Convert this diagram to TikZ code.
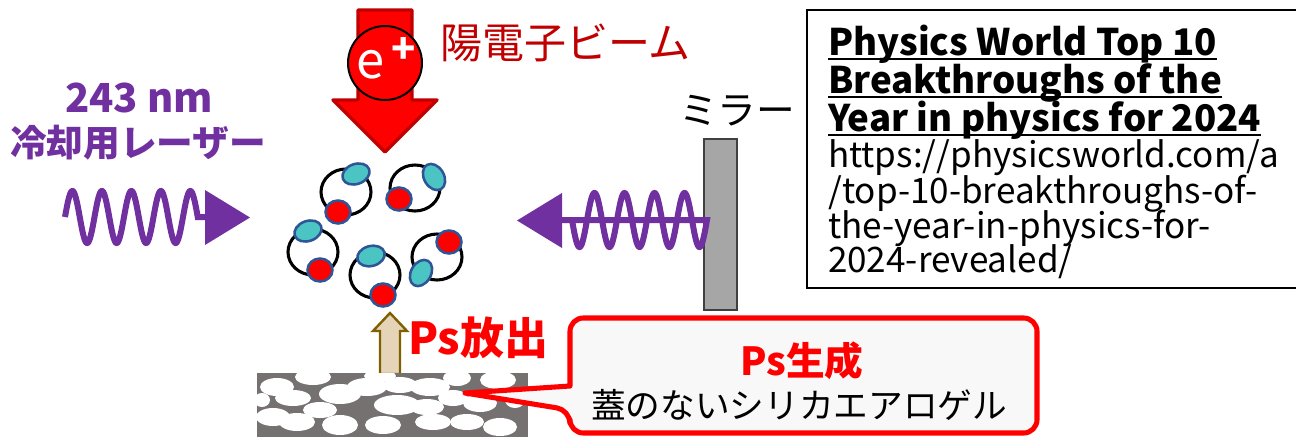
\documentclass[tikz,border=0pt]{standalone}
\usepackage{fontspec}
\setmainfont{Noto Sans CJK JP}
\usetikzlibrary{calc}

\definecolor{beamred}{HTML}{FF0000}
\definecolor{beamdark}{HTML}{C00000}
\definecolor{laser}{HTML}{7030A0}
\definecolor{poscyan}{HTML}{4BC4C4}
\definecolor{ellblue}{HTML}{2F5597}
\definecolor{mirrorfill}{HTML}{A6A6A6}
\definecolor{mirrorline}{HTML}{404040}
\definecolor{gelgray}{HTML}{767171}
\definecolor{psfill}{HTML}{E6D4B8}
\definecolor{psline}{HTML}{7F6000}
\definecolor{calloutfill}{HTML}{F8F8F8}

\tikzset{
  txt/.style={inner sep=0pt, outer sep=0pt},
  ring/.style={draw=black, line width=2.3pt},
  cyanpart/.style={draw=ellblue, fill=poscyan, line width=1.9pt},
  redpart/.style={draw=ellblue, fill=beamred, line width=1.9pt},
  wave/.style={draw=laser, line width=4.5pt},
  beamarrow/.style={fill=beamred, draw=beamdark, line width=2.6pt, line join=round},
  emitarrow/.style={fill=psfill, draw=psline, line width=1.8pt, line join=miter},
  calloutbox/.style={draw=beamred, fill=calloutfill, line width=3.8pt, line join=round},
  reftitle/.style={font=\bfseries\fontsize{27.5}{27.5}\selectfont},
}

\begin{document}
\begin{tikzpicture}[x=0.75pt,y=-0.75pt]
\useasboundingbox (0,0) rectangle (1296,437);

% positron beam arrow with the e+ disc
\draw[beamarrow] (358,10) -- (412,10) -- (412,100) -- (437,100) -- (385,152)
  -- (333,100) -- (358,100) -- cycle;
\node[circle, draw=black, fill=beamred, line width=1.5pt, minimum size=55.5pt, inner sep=0pt] (eplus) at (385,63) {};
\node[txt, text=white, font=\fontsize{38}{38}\selectfont] (elabel) at (371,65) {e};
\node[txt, text=white, font=\bfseries\fontsize{30}{30}\selectfont] (plabel) at (404,50) {+};
\node[txt, anchor=west, text=beamdark, font=\fontsize{31.5}{31.5}\selectfont] (beamtitle) at (440,43) {陽電子ビーム};

% cooling laser label
\node[txt, text=laser, font=\bfseries\fontsize{30}{30}\selectfont] (nm) at (139,98) {243 nm};
\node[txt, text=laser, font=\bfseries\fontsize{27.5}{27.5}\selectfont] (cool) at (138,143) {冷却用レーザー};

% incoming laser wave
\draw[wave] plot[domain=65:197.75, samples=240, smooth] (\x, {217-26*sin(12.2034*(\x-65))}) -- (207,217);
\fill[laser] (205,190) -- (250,217.5) -- (205,245) -- cycle;

% mirror and reflected wave
\draw[fill=mirrorfill, draw=mirrorline, line width=1.5pt] (704,139) rectangle (737,310);
\node[txt, font=\fontsize{29}{29}\selectfont] (mirrorlabel) at (737,111) {ミラー};
\draw[wave] plot[domain=572:707, samples=240, smooth] (\x, {220+27*sin(12*(\x-572))}) -- (560,220);
\fill[laser] (562,193) -- (517,220.5) -- (562,248) -- cycle;

% positronium atoms: ring, positron, electron
\foreach \rx/\ry/\cx/\cy/\ca/\dx/\dy in {
    346/192/356/174/20/338/212,
    415/188/434/177/-60/399/199,
    313/252/308/231/20/320/270,
    375/275/371/256/15/383/295,
    437/257/421/273/60/449/242}{
  \draw[ring] (\rx,\ry) ellipse [x radius=25, y radius=23];
  \draw[cyanpart, rotate around={\ca:(\cx,\cy)}] (\cx,\cy) ellipse [x radius=14, y radius=10];
  \draw[redpart] (\dx,\dy) ellipse [x radius=12.5, y radius=11.5];
}

% Ps emission arrow
\draw[emitarrow] (380,374) -- (380,331) -- (373,331) -- (390,313) -- (407,331)
  -- (400,331) -- (400,374) -- cycle;
\node[txt, anchor=west, text=beamred, font=\bfseries\fontsize{33}{33}\selectfont] (emit) at (408,338) {Ps放出};

% silica aerogel slab
\begin{scope}
  \clip (257,373) rectangle (528,437);
  \fill[gelgray] (257,373) rectangle (528,437);
  \foreach \ex/\ey/\ea/\eb in {
      277/387/17/9, 313/377/18/8, 293/398/18/8, 340/394/21/10, 367/387/20/9,
      380/376/16/6, 400/385/17/8, 430/387/20/9, 457/378/14/8, 498/380/18/9,
      480/403/17/9, 453/398/15/8, 397/405/23/10, 427/407/17/8, 320/410/17/8,
      273/417/17/9, 297/422/18/9, 340/425/18/10, 383/425/18/9, 433/422/18/8,
      467/422/17/8, 500/427/17/9, 515/400/10/8, 262/400/8/7}{
    \fill[white] (\ex,\ey) ellipse [x radius=\ea, y radius=\eb];
  }
\end{scope}

% callout describing Ps production
\draw[calloutbox, rounded corners=10pt] (800,318) -- (1037,318) -- (1037,433) -- (570,433)
  -- (570,410) [sharp corners] -- (465,393) -- (570,386) [rounded corners=10pt] -- (570,318) -- cycle;
\node[txt, text=beamred, font=\bfseries\fontsize{29}{29}\selectfont] (psmake) at (802,361) {Ps生成};
\node[txt, font=\fontsize{26}{26}\selectfont] (gel) at (799,405) {蓋のないシリカエアロゲル};

% reference box
\draw[line width=1.5pt] (807,10) rectangle (1302,288);
\begin{scope}[every node/.style={txt, anchor=base west, font=\fontsize{26.3}{26.3}\selectfont}]
  \node[reftitle] (r1) at (828,55) {Physics World Top 10};
  \node[reftitle] (r2) at (828,93) {Breakthroughs of the};
  \node[reftitle] (r3) at (828,131) {Year in physics for 2024};
  \node (r4) at (828,167) {https://physicsworld.com/a};
  \node (r5) at (828,203) {/top-10-breakthroughs-of-};
  \node (r6) at (828,238) {the-year-in-physics-for-};
  \node (r7) at (828,272) {2024-revealed/};
\end{scope}
\foreach \n in {r1,r2,r3}{
  \draw[line width=1.4pt] ($(\n.base west)+(0,4)$) -- ($(\n.base east)+(0,4)$);
}
\end{tikzpicture}
\end{document}
